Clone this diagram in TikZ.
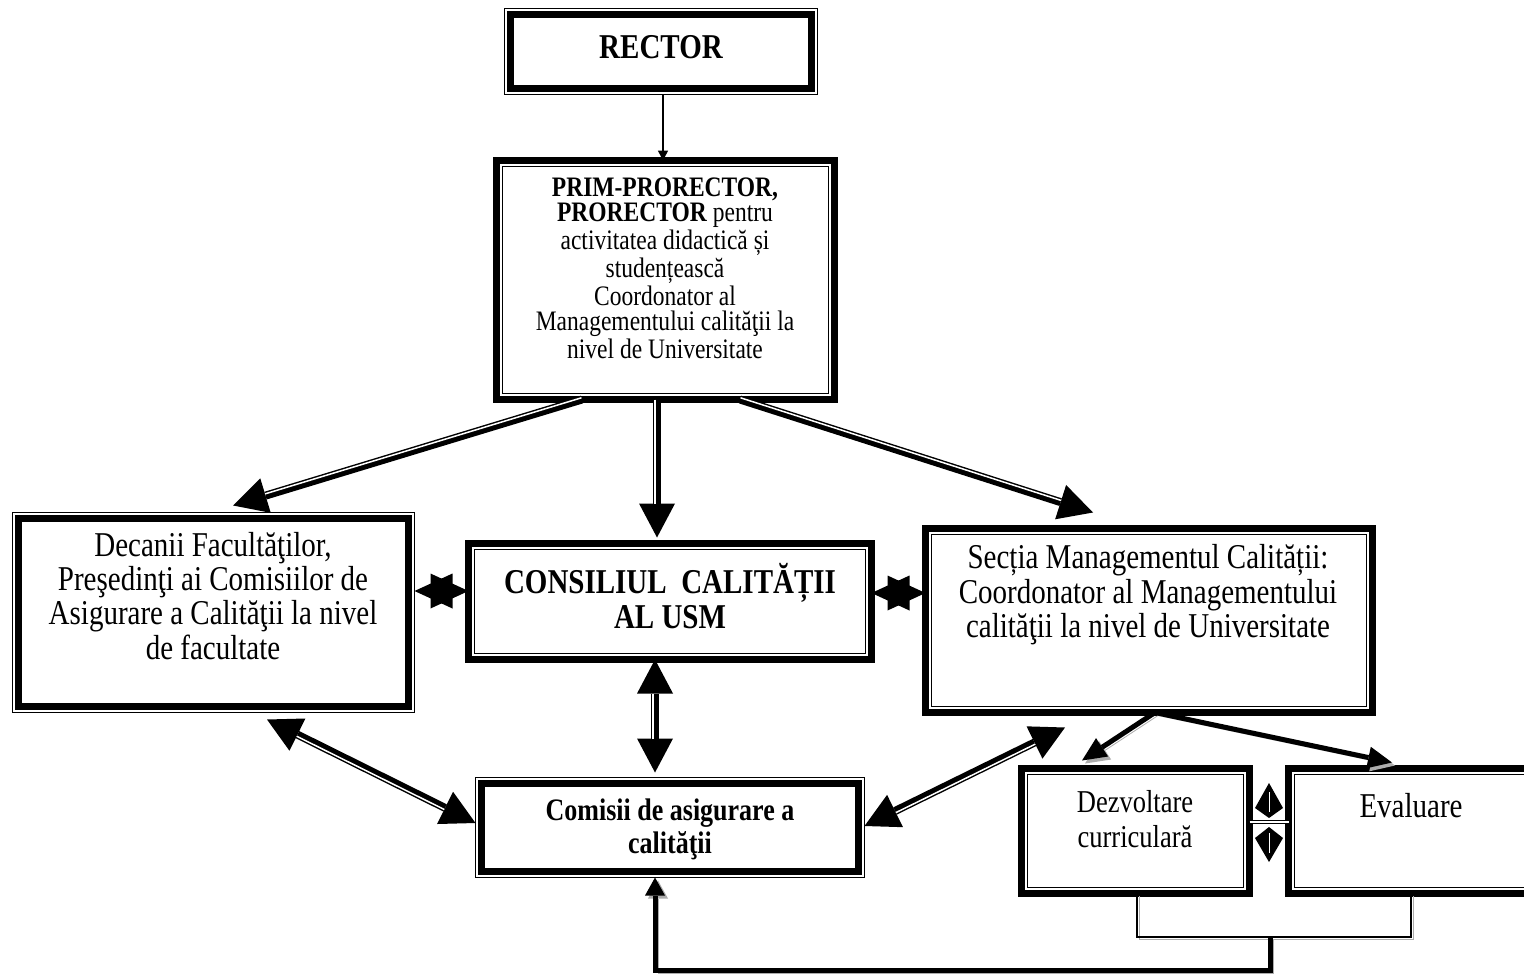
\documentclass[tikz,border=0pt]{standalone}
\usepackage{fontspec}
\setmainfont{Liberation Serif}
\usetikzlibrary{positioning}
\usetikzlibrary{calc}
\usetikzlibrary{arrows.meta}

\begin{document}
\begin{tikzpicture}[
        x=0.5pt, y=-0.5pt,
        frameA/.style 2 args={draw, line width=3.5pt, inner sep=0, outer sep=0,
            minimum width=#1, minimum height=#2,
            path picture={\draw[line width=0.5pt]
                ([shift={(3pt,3pt)}]path picture bounding box.south west) rectangle
                ([shift={(-3pt,-3pt)}]path picture bounding box.north east);}},
        frameB/.style 2 args={draw, line width=0.5pt, inner sep=0, outer sep=0,
            minimum width=#1, minimum height=#2,
            path picture={\draw[line width=3.5pt]
                ([shift={(3pt,3pt)}]path picture bounding box.south west) rectangle
                ([shift={(-3pt,-3pt)}]path picture bounding box.north east);}},
        txt/.style={align=center, inner sep=0, yscale=1.2, transform shape},
        BigTri/.tip={Triangle[length=17pt, width=18pt, line width=0pt]},
        StarTri/.tip={Triangle[length=19pt, width=17.5pt, line width=0pt]},
        SmallTri/.tip={Triangle[length=12pt, width=11pt, line width=0pt]},
        dbl/.style={line width=4pt, -BigTri,
            postaction={draw=white, line width=0.75pt, -, shorten >=17pt,
                transform canvas={shift={#1}}}},
        dbltwo/.style={line width=4pt, BigTri-BigTri,
            postaction={draw=white, line width=0.75pt, -, shorten >=17pt, shorten <=17pt,
                transform canvas={shift={#1}}}},
        shad/.style={preaction={draw=gray!65, transform canvas={shift={(#1,-#1)}}}},
    ]
    \useasboundingbox (0,0) rectangle (1524,979);
    \clip (0,0) rectangle (1524,979);
    \fill[white] (0,0) rectangle (1524,979);

    % boxes
    \node[frameB={156.5pt}{43pt}] (rector) at (661,51.5) {};
    \node[frameA={169pt}{119.5pt}] (prim) at (665.5,280) {};
    \node[frameB={201pt}{100pt}] (dec) at (213.5,612.5) {};
    \node[frameA={201.5pt}{58pt}] (cons) at (670,601.5) {};
    \node[frameA={223.5pt}{92pt}] (sect) at (1149,620.5) {};
    \node[frameB={194.5pt}{50pt}] (com) at (670,827.5) {};
    \node[frameA={114pt}{62.5pt}] (dezv) at (1135.5,831) {};
    \node[frameA={122.5pt}{62.5pt}] (eval) at (1411,831) {};

    % texts
    \node[txt, font=\fontsize{14.5}{13.3}\selectfont\bfseries] (rectortxt) at (661,47) {RECTOR};
    \node[txt, font=\fontsize{11.75}{10.5}\selectfont] (primtxt) at (665,268)
        {\textbf{PRIM-PRORECTOR,}\\\textbf{PRORECTOR} pentru\\activitatea didactică și\\studențească\\Coordonator al\\Managementului calităţii la\\nivel de Universitate};
    \node[txt, font=\fontsize{14.5}{12.9}\selectfont] (dectxt) at (213,596)
        {Decanii Facultăţilor,\\Preşedinţi ai Comisiilor de\\Asigurare a Calităţii la nivel\\de facultate};
    \node[txt, font=\fontsize{14.5}{13.3}\selectfont\bfseries] (constxt) at (670,596)
        {CONSILIUL\ \ CALITĂȚII\\AL USM};
    \node[txt, font=\fontsize{14.5}{14.4}\selectfont] (secttxt) at (1148,595)
        {Secția Managementul Calității:\\Coordonator al Managementului\\calităţii la nivel de Universitate};
    \node[txt, font=\fontsize{13}{13.75}\selectfont\bfseries] (comtxt) at (670,829)
        {Comisii de asigurare a\\calităţii};
    \node[txt, font=\fontsize{13.25}{14.6}\selectfont] (dezvtxt) at (1135,819)
        {Dezvoltare\\curriculară};
    \node[txt, font=\fontsize{14.5}{13.3}\selectfont] (evaltxt) at (1411,806) {Evaluare};

    % arrows
    \draw[line width=0.75pt, -{Triangle[length=5pt, width=5pt]}] (rector.south -| 663,0) -- (prim.north -| 663,0);
    \draw[dbl={(-0.26pt,0.86pt)}] (prim.south -| 582,0) -- ($(dec.north -| 233,0)+(0,-7)$);
    \draw[dbl={(-0.9pt,0pt)}] (prim.south -| 657,0) -- ($(cons.north -| 657,0)+(0,-6)$);
    \draw[dbl={(0.25pt,0.86pt)}] (prim.south -| 740,0) -- ($(sect.north -| 1093,0)+(0,-16)$);

    \draw[line width=0.4pt, StarTri-StarTri] (dec.east |- 0,591) -- (cons.west |- 0,591);
    \draw[line width=0.4pt, StarTri-StarTri] (cons.east |- 0,593) -- (sect.west |- 0,593);

    \draw[dbltwo={(-0.9pt,0pt)}] (cons.south -| 655,0) -- ($(com.north -| 655,0)+(0,-5)$);
    \draw[dbltwo={(-0.4pt,-0.8pt)}] ($(dec.south -| 267,0)+(0,7)$) -- (com.west |- 0,823);
    \draw[dbltwo={(0.4pt,-0.81pt)}] ($(sect.south -| 1065,0)+(0,15)$) -- (com.east |- 0,826);

    \draw[line width=2.5pt, -SmallTri, shad=1.5pt] (sect.south -| 1155,0) -- ($(dezv.north -| 1082,0)+(0,-8)$);
    \draw[line width=2.5pt, -SmallTri, shad=1.5pt] (sect.south -| 1155,0) -- ($(eval.north -| 1392,0)+(0,-6)$);

    \draw[line width=0.4pt, double, double distance=1.2pt] (dezv.east |- 0,822) -- (eval.west |- 0,822);
    \fill (1269,783) -- (1283,808) -- (1269,818) -- (1255,808) -- cycle;
    \fill (1269,827) -- (1283,838) -- (1269,862) -- (1255,838) -- cycle;
    \draw[white, line width=0.5pt] (1269,792) -- (1269,812);
    \draw[white, line width=0.5pt] (1269,833) -- (1269,853);

    \coordinate (join) at (1270,937);
    \draw[line width=0.75pt, shad=1.2pt] (dezv.south -| 1137,0) |- (join) -| (eval.south -| 1411,0);
    \draw[line width=2.5pt, -{Triangle[length=9pt, width=10pt, line width=0pt]}, shad=1.5pt]
        (join) -- ++(0,33) -| (com.south -| 655,0);
\end{tikzpicture}
\end{document}
